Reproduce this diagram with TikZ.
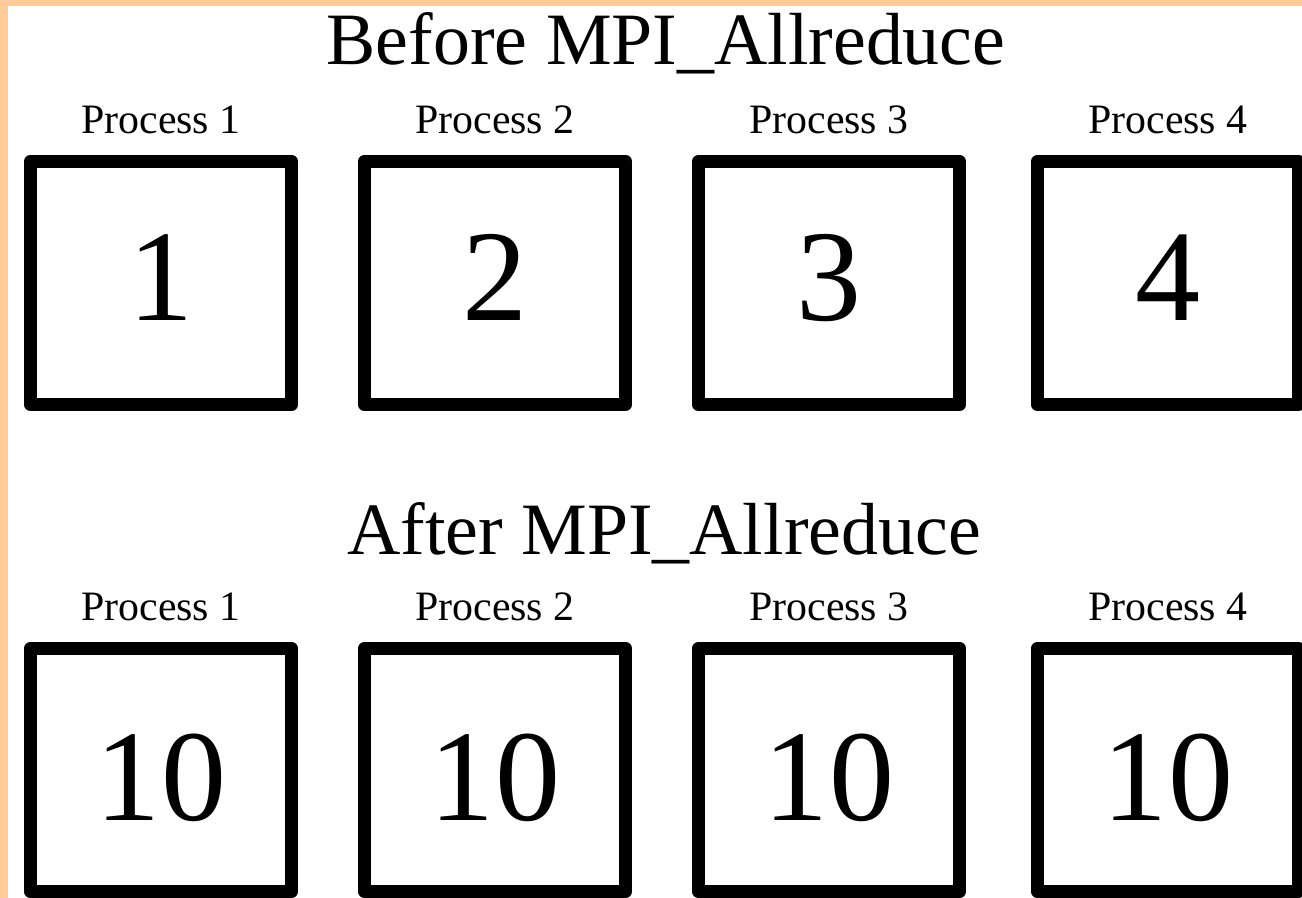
\documentclass[tikz,border=0pt]{standalone}
\usepackage{fontspec}
\setmainfont{Liberation Serif}
\definecolor{peach}{HTML}{FFCC99}
\tikzset{
  procbox/.style={draw, line width=0.13cm, line join=round, minimum width=2.61cm,
    minimum height=2.43cm, inner sep=0pt,
    font=\fontsize{37}{37}\selectfont},
  proclabel/.style={label={[inner sep=0pt, label distance=0.2cm,
    font=\fontsize{11.9}{12}\selectfont]above:#1}},
  heading/.style={anchor=base, inner sep=0pt, font=\fontsize{21}{22}\selectfont}
}
\begin{document}
\begin{tikzpicture}[x=0.01cm,y=-0.01cm]
% page with the frame along the top and left
\fill[peach] (0,0) rectangle (1302,898);
\fill[white] (8,6) rectangle (1302,898);
\useasboundingbox (0,0) rectangle (1302,898);
\node[heading] (before) at (666,65) {Before MPI\_Allreduce};
\node[heading] (after) at (664,555) {After MPI\_Allreduce};
\foreach \i/\x in {1/161,2/495,3/829,4/1168}{
\node[procbox, proclabel=Process \i, text height=0.88cm, text depth=0.14cm] (b\i) at (\x,283) {\i};
\node[procbox, proclabel=Process \i, text height=1cm, text depth=0cm] (a\i) at (\x,770) {10};
}
\end{tikzpicture}
\end{document}
